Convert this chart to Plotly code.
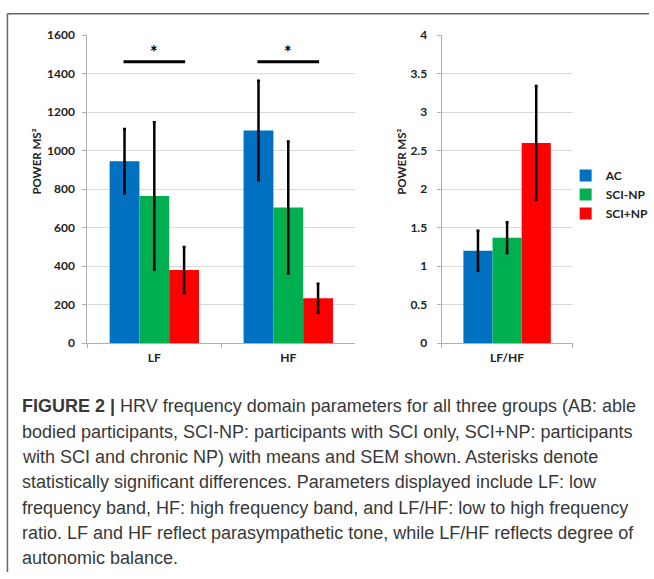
import plotly.graph_objects as go

W, H = 654, 579

groups = ["AC", "SCI-NP", "SCI+NP"]
colors = ["#0070C0", "#00B050", "#FF0000"]

bands = ["LF", "HF"]
band_means = {"AC": [945, 1105], "SCI-NP": [765, 705], "SCI+NP": [380, 233]}
band_sem = {"AC": [168, 258], "SCI-NP": [383, 343], "SCI+NP": [120, 75]}

ratio_cat = ["LF/HF"]
ratio_means = {"AC": [1.2], "SCI-NP": [1.37], "SCI+NP": [2.6]}
ratio_sem = {"AC": [0.26], "SCI-NP": [0.2], "SCI+NP": [0.74]}

left_yticks = [0, 200, 400, 600, 800, 1000, 1200, 1400, 1600]
right_yticks = [0, 0.5, 1, 1.5, 2, 2.5, 3, 3.5, 4]
right_yticklabels = ["0", "0.5", "1", "1.5", "2", "2.5", "3", "3.5", "4"]

sig_level = 1463

caption_lines = [
    "<b>FIGURE 2 |</b> HRV frequency domain parameters for all three groups (AB: able",
    "bodied participants, SCI-NP: participants with SCI only, SCI+NP: participants",
    "with SCI and chronic NP) with means and SEM shown. Asterisks denote",
    "statistically significant differences. Parameters displayed include LF: low",
    "frequency band, HF: high frequency band, and LF/HF: low to high frequency",
    "ratio. LF and HF reflect parasympathetic tone, while LF/HF reflects degree of",
    "autonomic balance.",
]

fig = go.Figure()

err_style = dict(type="data", visible=True, color="black", thickness=2.5, width=1.5)

for g, c in zip(groups, colors):
    fig.add_trace(go.Bar(
        x=bands, y=band_means[g], name=g, marker_color=c, marker_line_width=0,
        error_y=dict(array=band_sem[g], **err_style),
        xaxis="x", yaxis="y", showlegend=False,
    ))
for g, c in zip(groups, colors):
    fig.add_trace(go.Bar(
        x=ratio_cat, y=ratio_means[g], name=g, marker_color=c, marker_line_width=0,
        error_y=dict(array=ratio_sem[g], **err_style),
        xaxis="x2", yaxis="y2", showlegend=True,
    ))

def px_x(p):
    return p / W

def px_y(p):
    return (H - p) / H

tickfont = dict(family="Lato", size=12, color="#222222", weight="bold")
axis_common = dict(
    showline=True, linecolor="#b0b0b0", linewidth=1,
    ticks="outside", ticklen=4, tickcolor="#b0b0b0",
    tickfont=tickfont, zeroline=False,
)

fig.update_layout(
    width=W, height=H,
    margin=dict(l=0, r=0, t=0, b=0),
    paper_bgcolor="white", plot_bgcolor="white",
    barmode="group", bargap=0.333, bargroupgap=0,
    xaxis=dict(domain=[px_x(88), px_x(358)], anchor="y", type="category",
               range=[-0.5, 1.5], tickson="boundaries", showgrid=False,
               ticklabelstandoff=4, **axis_common),
    yaxis=dict(domain=[px_y(344), px_y(28)], anchor="x", range=[0, 1600],
               tickvals=left_yticks, showgrid=True, gridcolor="#d9d9d9", gridwidth=1,
               ticklabelstandoff=5, **axis_common),
    xaxis2=dict(domain=[px_x(445), px_x(577)], anchor="y2", type="category",
                range=[-0.5, 0.5], tickson="boundaries", showgrid=False,
                ticklabelstandoff=4, **axis_common),
    yaxis2=dict(domain=[px_y(344), px_y(28)], anchor="x2", range=[0, 4],
                tickvals=right_yticks, ticktext=right_yticklabels,
                showgrid=True, gridcolor="#d9d9d9", gridwidth=1,
                ticklabelstandoff=7, **axis_common),
    legend=dict(x=px_x(570), y=px_y(157), xanchor="left", yanchor="top",
                font=dict(family="Lato", size=12, color="#222222", weight="bold"),
                itemwidth=30, tracegroupgap=0, bgcolor="rgba(0,0,0,0)"),
    showlegend=True,
)

# significance bars
for b in bands:
    fig.add_shape(type="line", xref="x", yref="y",
                  x0=bands.index(b) - 0.23, x1=bands.index(b) + 0.23,
                  y0=sig_level, y1=sig_level, line=dict(color="black", width=3))
    fig.add_annotation(x=b, y=sig_level, xref="x", yref="y", text="<b>*</b>",
                       showarrow=False, yanchor="bottom", yshift=-3,
                       font=dict(family="Lato", size=18, color="black"))

# y-axis titles
for xp in (37, 405):
    fig.add_annotation(x=px_x(xp), y=px_y(158), xref="paper", yref="paper",
                       xanchor="center", yanchor="middle",
                       text="<b>POWER MS²</b>", textangle=-90, showarrow=False,
                       font=dict(family="Lato", size=11.5, color="#222222"))

# frame
fig.add_shape(type="line", xref="paper", yref="paper", x0=px_x(7.5), x1=px_x(7.5),
              y0=px_y(6), y1=0, line=dict(color="#666666", width=1.5))
fig.add_shape(type="line", xref="paper", yref="paper", x0=px_x(7.5), x1=1,
              y0=px_y(6), y1=px_y(6), line=dict(color="#666666", width=1.5))

# caption
for i, line in enumerate(caption_lines):
    fig.add_annotation(x=px_x(20), y=px_y(409 + 26 * i), xref="paper", yref="paper",
                       text=line, showarrow=False, xanchor="left", yanchor="middle",
                       font=dict(family="Liberation Sans", size=18, color="#383838"))

fig.write_html("out.html", config={"displayModeBar": False},
               post_script="document.body.style.margin='0';")
